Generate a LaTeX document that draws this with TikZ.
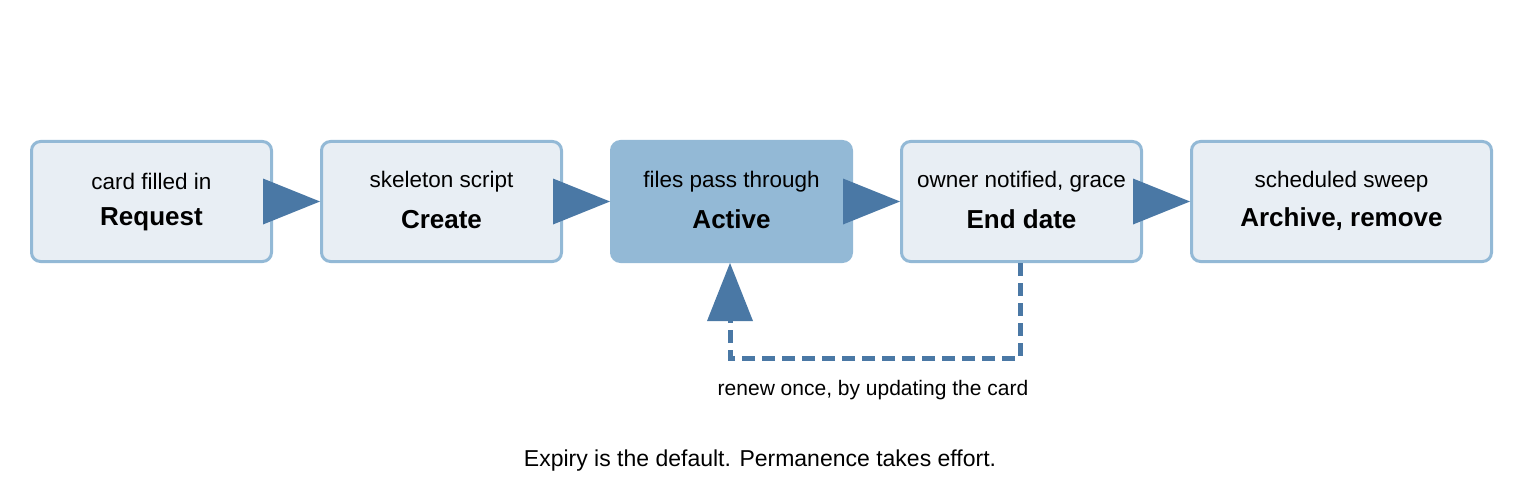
\documentclass[tikz,border=0pt]{standalone}
\usepackage{fontspec}
\setmainfont{Liberation Sans}
\definecolor{boxfill}{HTML}{E8EEF4}
\definecolor{boxline}{HTML}{93B9D6}
\definecolor{arr}{HTML}{4A78A5}
\begin{document}
\begin{tikzpicture}[x=1pt,y=-1pt,
  box/.style={draw=boxline,line width=3pt,fill=boxfill,rounded corners=9pt,minimum width=240pt,minimum height=120pt,anchor=north west,inner sep=0pt},
  act/.style={box,fill=boxline},
  ttl/.style={font=\fontsize{26}{30}\selectfont\bfseries},
  sub/.style={font=\fontsize{22.5}{26}\selectfont}]
\useasboundingbox (0,0) rectangle (1520,500);
\node[box] (b1) at (30,140) {};
\node[box] (b2) at (320,140) {};
\node[act] (b3) at (610,140) {};
\node[box] (b4) at (900,140) {};
\node[box,minimum width=300pt] (b5) at (1190,140) {};
\foreach \n/\t/\s in {b1/Request/card filled in,b2/Create/skeleton script,b3/Active/files pass through,b4/End date/{owner notified, grace},b5/{Archive, remove}/scheduled sweep}{
  \node[ttl] (\n t) at ([yshift=-18pt]\n.center) {\t};
  \node[sub] (\n s) at ([yshift=20pt]\n.center) {\s};
}
\foreach \n in {b2,b3,b4,b5}{
  \fill[arr] (\n.west) -- ++(-57,-23) -- ++(0,46) -- cycle;
}
\coordinate (c1) at (1020,358);
\coordinate (c2) at (730,358);
\coordinate (c3) at (730,320);
\draw[arr,line width=5pt,dash pattern=on 13pt off 7pt] (b4.south -| c1) -- (c1) -- (c2) -- (c3);
\fill[arr] (b3.south -| c2) -- ++(-23,58) -- ++(46,0) -- cycle;
\node[font=\fontsize{21}{25}\selectfont] (lbl) at (873,390) {renew once, by updating the card};
\node[font=\fontsize{23}{27}\selectfont] (foot) at (760,461) {Expiry is the default. Permanence takes effort.};
\end{tikzpicture}
\end{document}
